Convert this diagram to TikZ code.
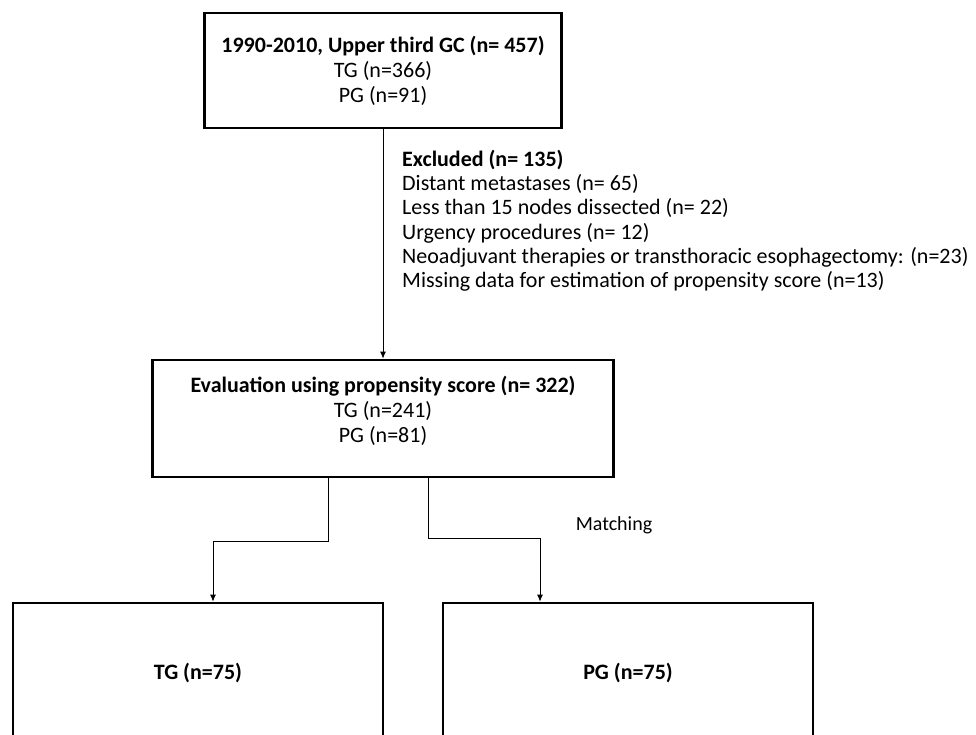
\documentclass[tikz,border=0pt]{standalone}
\usepackage{fontspec}
\setmainfont{Carlito}
\usetikzlibrary{positioning, arrows.meta}
\begin{document}
\begin{tikzpicture}[x=1pt, y=-1pt, >={Latex[length=7pt, width=6pt]}]
    \tikzstyle{stage} = [rectangle, draw=black, line width=2.8pt, align=center, inner sep=0pt, font=\fontsize{22}{25}\selectfont]
    \tikzstyle{group} = [rectangle, draw=black, line width=2.8pt, minimum width=370pt, minimum height=140pt, inner sep=0pt, font=\bfseries\fontsize{22}{25}\selectfont]
    \tikzstyle{note} = [align=left, inner sep=0pt, font=\fontsize{22}{24.2}\selectfont]
    \tikzstyle{link} = [->, line width=0.8pt]

    \useasboundingbox (0,0) rectangle (976,734);
    \clip (0,0) rectangle (976,734);

    % Boxes
    \node [stage, minimum width=357pt, minimum height=115pt] (cohort) at (383,70.5) {\textbf{1990-2010, Upper third GC (n= 457)}\\TG (n=366)\\PG (n=91)};
    \node [stage, minimum width=461pt, minimum height=117pt, text depth=18pt] (eval) at (383,418.5) {\textbf{Evaluation using propensity score (n= 322)}\\TG (n=241)\\PG (n=81)};
    \node [group] (tg) at (198,673) {TG (n=75)};
    \node [group] (pg) at (628,673) {PG (n=75)};

    % Excluded list
    \node [note, anchor=north west] (excl) at (402,150) {\textbf{Excluded (n= 135)}\\
        Distant metastases (n= 65)\\
        Less than 15 nodes dissected (n= 22)\\
        Urgency procedures (n= 12)\\
        Neoadjuvant therapies or transthoracic esophagectomy: (n=23)\\
        Missing data for estimation of propensity score (n=13)};
    \node [font=\fontsize{20}{24}\selectfont] (match) at (614,525) {Matching};

    % Connections
    \draw [link] (cohort.south) -- (eval.north);
    \draw [link] ([xshift=-55pt]eval.south) -- ++(0,63) -| ([xshift=15pt]tg.north);
    \draw [link] ([xshift=45pt]eval.south) -- ++(0,60) -| ([xshift=-88pt]pg.north);
\end{tikzpicture}
\end{document}
